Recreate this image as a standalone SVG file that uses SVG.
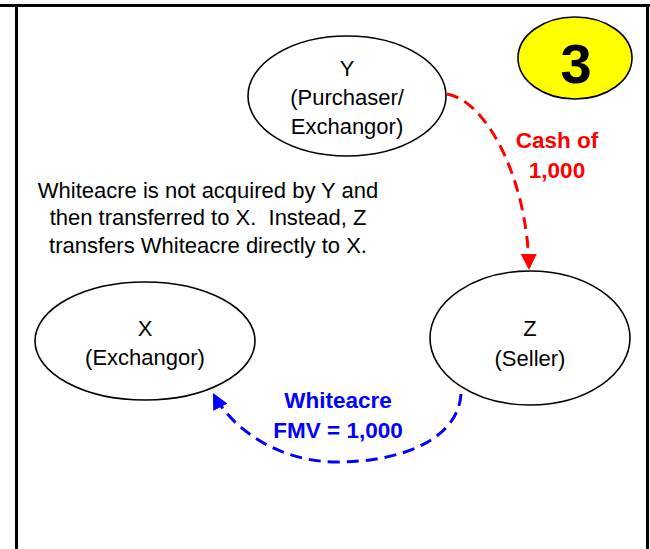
<svg xmlns="http://www.w3.org/2000/svg" width="650" height="549" viewBox="0 0 650 549">
<style>
  .node { fill: #FFFFFF; stroke: #000000; stroke-width: 1.6; }
  .lbl { font-family: "Liberation Sans", Arial, sans-serif; font-size: 22px; fill: #000000; text-anchor: middle; white-space: pre; }
  .red { font-family: "Liberation Sans", Arial, sans-serif; font-size: 22.5px; font-weight: bold; fill: #FF0000; text-anchor: middle; }
  .blue { font-family: "Liberation Sans", Arial, sans-serif; font-size: 22.5px; font-weight: bold; fill: #0000FF; text-anchor: middle; }
  .border { stroke: #000000; stroke-width: 3; fill: none; }
  .dash { fill: none; stroke-width: 3; stroke-dasharray: 12 7; }
</style>
<defs>
  <marker id="arrRed" markerUnits="userSpaceOnUse" markerWidth="16" markerHeight="16" viewBox="0 0 14 14" refX="14" refY="7" orient="auto">
    <path d="M0,0 L14,7 L0,14 z" fill="#FF0000"/>
  </marker>
  <marker id="arrBlue" markerUnits="userSpaceOnUse" markerWidth="16" markerHeight="16" viewBox="0 0 14 14" refX="14" refY="7" orient="auto">
    <path d="M0,0 L14,7 L0,14 z" fill="#0000FF"/>
  </marker>
</defs>
<rect x="0" y="0" width="650" height="549" fill="#FFFFFF"/>
<g id="frame">
  <line class="border" x1="0" y1="5.5" x2="650" y2="5.5"/>
  <line class="border" x1="16.5" y1="5" x2="16.5" y2="549"/>
  <line class="border" x1="647.5" y1="5" x2="647.5" y2="549"/>
</g>
<g id="connectors">
  <path class="dash" stroke="#FF0000" d="M447,94 C487,101 528,180 529,270" marker-end="url(#arrRed)"/>
  <path class="dash" stroke="#0000FF" d="M461,394 C458,440 400,462 337,462 C280,462 232,430 213,393" marker-end="url(#arrBlue)"/>
</g>
<g id="node-Y">
  <ellipse class="node" cx="347" cy="96" rx="99" ry="60"/>
  <text class="lbl" x="347" y="76">Y</text>
  <text class="lbl" x="347" y="105">(Purchaser/</text>
  <text class="lbl" x="347" y="134">Exchangor)</text>
</g>
<g id="node-X">
  <ellipse class="node" cx="145" cy="341" rx="110" ry="59"/>
  <text class="lbl" x="145" y="336">X</text>
  <text class="lbl" x="145" y="365">(Exchangor)</text>
</g>
<g id="node-Z">
  <ellipse class="node" cx="530" cy="338" rx="100" ry="67"/>
  <text class="lbl" x="530" y="336">Z</text>
  <text class="lbl" x="530" y="366">(Seller)</text>
</g>
<g id="badge-3">
  <ellipse cx="575" cy="58" rx="57" ry="41" fill="#FFFF00" stroke="#000000" stroke-width="1.6"/>
  <text x="576" y="83" font-family="Liberation Sans, Arial, sans-serif" font-size="56" font-weight="bold" text-anchor="middle" fill="#000000">3</text>
</g>
<g id="note">
  <text class="lbl" x="208" y="198">Whiteacre is not acquired by Y and</text>
  <text class="lbl" x="208" y="225" xml:space="preserve">then transferred to X.  Instead, Z</text>
  <text class="lbl" x="208" y="253">transfers Whiteacre directly to X.</text>
</g>
<g id="label-cash">
  <text class="red" x="557" y="148">Cash of</text>
  <text class="red" x="557" y="178">1,000</text>
</g>
<g id="label-whiteacre">
  <text class="blue" x="338" y="408">Whiteacre</text>
  <text class="blue" x="338" y="438">FMV = 1,000</text>
</g>
</svg>
